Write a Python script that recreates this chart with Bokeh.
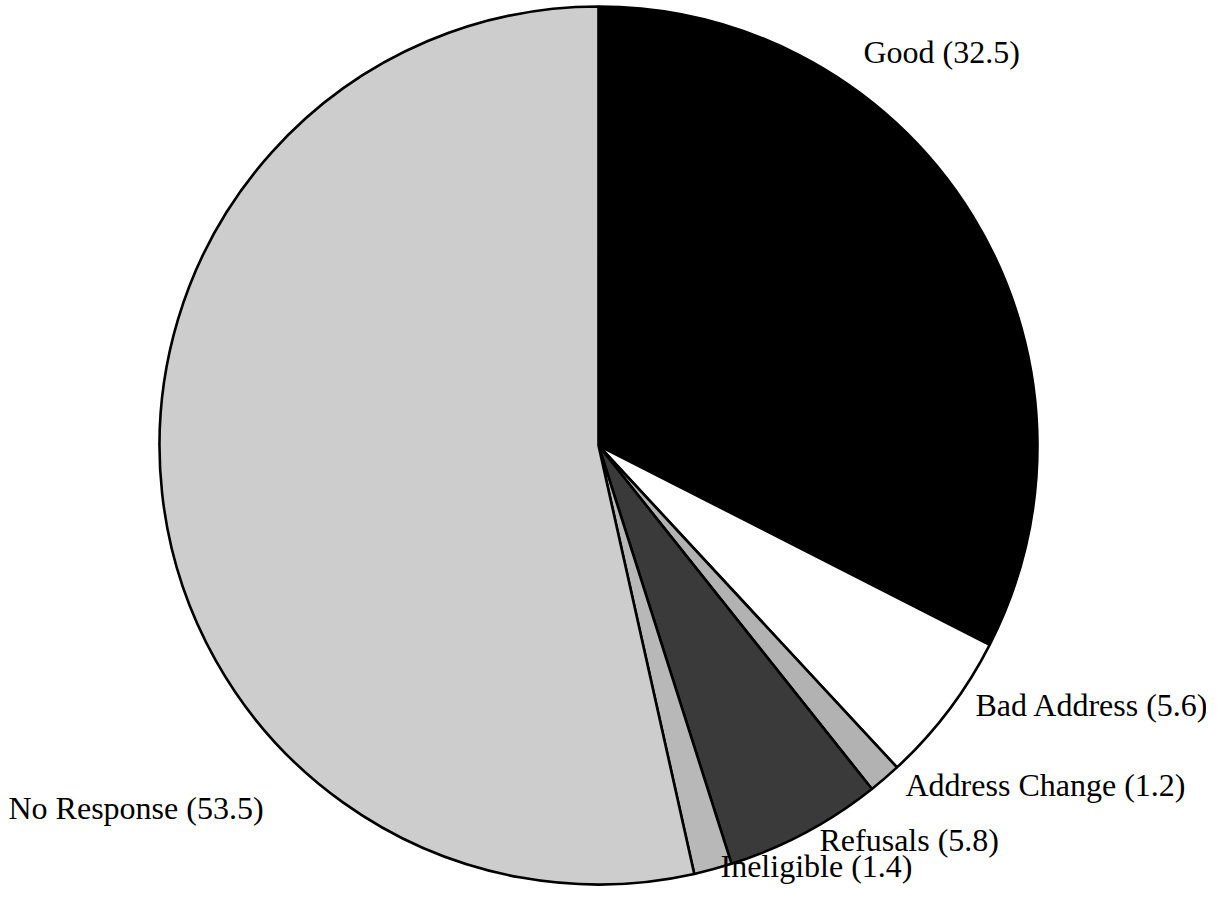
import math
from bokeh.plotting import figure
from bokeh.models import Range1d, ColumnDataSource
from bokeh.core.properties import value
from bokeh.embed import file_html
from bokeh.resources import INLINE

# ---- data ----
categories = ["Good", "Bad Address", "Address Change", "Refusals", "Ineligible", "No Response"]
shares = [32.5, 5.6, 1.2, 5.8, 1.4, 53.5]

# ---- styles / layout ----
fills = ["#000000", "#ffffff", "#b2b2b2", "#3a3a3a", "#b8b8b8", "#cdcdcd"]
W, H = 1206, 886
cx, cy, r = 598, 445, 439                  # pie centre / radius (px from top-left)
label_x = [863, 975, 905, 819, 720, 8]     # left edge of each label
label_y = [51, 704, 784, 839, 865, 807]    # anchor of each label (px from top)

total = sum(shares)
starts, ends = [], []
cum = 0.0
for s in shares:
    starts.append(math.pi / 2 - 2 * math.pi * cum / total)
    cum += s
    ends.append(math.pi / 2 - 2 * math.pi * cum / total)

src = ColumnDataSource(dict(
    cat=categories, share=shares, start=starts, end=ends, fill=fills,
    x=[cx] * len(shares), y=[H - cy] * len(shares),
))

p = figure(width=W, height=H, output_backend="svg", toolbar_location=None,
           x_range=Range1d(0, W), y_range=Range1d(0, H), min_border=0)
p.axis.visible = False
p.grid.visible = False
p.outline_line_color = None
p.background_fill_color = "white"
p.border_fill_color = "white"

p.wedge(x="x", y="y", radius=r, start_angle="start", end_angle="end",
        direction="clock", fill_color="fill", line_color="black",
        line_width=2.6, source=src)

lab = ColumnDataSource(dict(
    x=label_x, y=[H - v for v in label_y],
    text=[f"{c} ({s})" for c, s in zip(categories, shares)],
))
p.text(x="x", y="y", text="text", source=lab, text_align="left",
       text_baseline="alphabetic", text_font=value("Liberation Serif"),
       text_font_size="32px", text_color="black")

open("out.html", "w").write(file_html(p, INLINE))
